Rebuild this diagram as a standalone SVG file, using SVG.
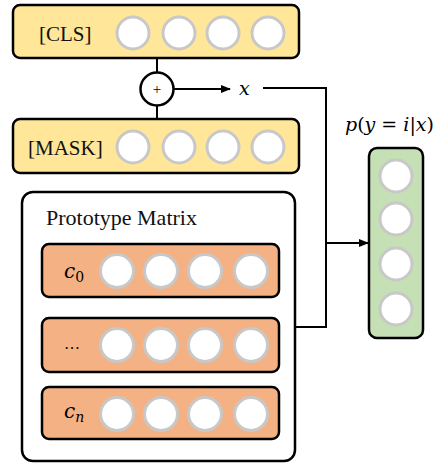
<svg xmlns="http://www.w3.org/2000/svg" width="448" height="463" viewBox="0 0 448 463">
<defs>
<marker id="ah" markerWidth="10" markerHeight="8" refX="9" refY="4" orient="auto" markerUnits="userSpaceOnUse">
<path d="M0,0 L10,4 L0,8 Z" fill="#000"/>
</marker>
</defs>
<style>
.box{stroke:#000;stroke-width:2.5}
.y{fill:#FFE699}
.o{fill:#F4B183}
.g{fill:#C5E0B4}
.c{fill:#fff;stroke:#C8C8C8;stroke-width:3}
.ln{stroke:#000;stroke-width:2;fill:none}
</style>
<rect x="0" y="0" width="448" height="463" fill="#fff"/>
<g id="connectors">
<line class="ln" x1="157" y1="58" x2="157" y2="73"/>
<line class="ln" x1="157" y1="106" x2="157" y2="120"/>
<line class="ln" x1="174" y1="89" x2="230" y2="89" marker-end="url(#ah)"/>
<polyline class="ln" points="263,88 326,88 326,327 295,327"/>
<line class="ln" x1="326" y1="243" x2="368" y2="243" marker-end="url(#ah)"/>
</g>
<g id="cls">
<rect class="box y" x="13" y="5" width="286" height="53" rx="7"/>
<text x="39" y="41" font-family="Liberation Serif, serif" font-size="21" fill="#111">[CLS]</text>
<circle class="c" cx="133" cy="33" r="16"/><circle class="c" cx="179" cy="33" r="16"/><circle class="c" cx="223" cy="33" r="16"/><circle class="c" cx="268" cy="33" r="16"/>
</g>
<g id="plus">
<circle cx="157" cy="89" r="16.5" fill="#fff" stroke="#000" stroke-width="2.5"/>
<text x="157" y="94" text-anchor="middle" font-family="Liberation Serif, serif" font-size="15">+</text>
</g>
<g id="xlabel"><text x="239" y="95" font-family="DejaVu Serif, serif" font-style="italic" font-size="19">x</text></g>
<g id="mask">
<rect class="box y" x="13" y="119" width="286" height="54" rx="7"/>
<text x="28" y="155" font-family="Liberation Serif, serif" font-size="21" fill="#111">[MASK]</text>
<circle class="c" cx="133" cy="147" r="16"/><circle class="c" cx="179" cy="147" r="16"/><circle class="c" cx="223" cy="147" r="16"/><circle class="c" cx="268" cy="147" r="16"/>
</g>
<g id="prototype">
<rect x="22" y="192" width="273" height="269" rx="11" fill="#fff" stroke="#000" stroke-width="2.5"/>
<text x="46" y="225" font-family="Liberation Serif, serif" font-size="22" fill="#111">Prototype Matrix</text>
</g>
<g id="c0">
<rect class="box o" x="42" y="244" width="237" height="53" rx="7"/>
<text x="64" y="278" font-family="DejaVu Serif, serif" font-size="20"><tspan font-style="italic">c</tspan><tspan font-size="14" dy="4">0</tspan></text>
<circle class="c" cx="117" cy="271" r="16.5"/><circle class="c" cx="161" cy="271" r="16.5"/><circle class="c" cx="205" cy="271" r="16.5"/><circle class="c" cx="251" cy="271" r="16.5"/>
</g>
<g id="cdots">
<rect class="box o" x="42" y="318" width="237" height="54" rx="7"/>
<text x="64" y="349" font-family="Liberation Serif, serif" font-size="16">…</text>
<circle class="c" cx="117" cy="345" r="16.5"/><circle class="c" cx="161" cy="345" r="16.5"/><circle class="c" cx="205" cy="345" r="16.5"/><circle class="c" cx="251" cy="345" r="16.5"/>
</g>
<g id="cn">
<rect class="box o" x="42" y="387" width="237" height="52" rx="7"/>
<text x="64" y="418" font-family="DejaVu Serif, serif" font-size="20" font-style="italic">c<tspan font-size="14" dy="4">n</tspan></text>
<circle class="c" cx="117" cy="414" r="16.5"/><circle class="c" cx="161" cy="414" r="16.5"/><circle class="c" cx="205" cy="414" r="16.5"/><circle class="c" cx="251" cy="414" r="16.5"/>
</g>
<g id="output">
<text x="345" y="131" font-family="DejaVu Serif, serif" font-size="19"><tspan font-style="italic">p</tspan>(<tspan font-style="italic">y</tspan> = <tspan font-style="italic">i</tspan>|<tspan font-style="italic">x</tspan>)</text>
<rect class="box g" x="369" y="148" width="54" height="190" rx="8"/>
<circle class="c" cx="396" cy="176" r="16"/><circle class="c" cx="396" cy="219" r="16"/><circle class="c" cx="396" cy="264" r="16"/><circle class="c" cx="396" cy="309" r="16"/>
</g>
</svg>
